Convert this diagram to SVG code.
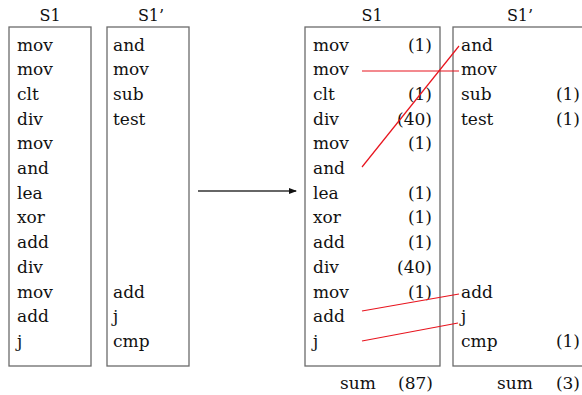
<svg xmlns="http://www.w3.org/2000/svg" width="582" height="395" viewBox="0 0 582 395">
<style>
.box{fill:#fff;stroke:#6b6b6b;stroke-width:1.3}
text{font-family:"DejaVu Serif","Liberation Serif",serif;font-size:17px;fill:#111}
.t{font-size:16px;text-anchor:middle}
.n{text-anchor:end}
.red{stroke:#e8141e;stroke-width:1.2;fill:none}
</style>
<defs>
<marker id="ah" markerWidth="8" markerHeight="6" refX="7" refY="3" orient="auto" markerUnits="userSpaceOnUse">
<path d="M0,0 L8,3 L0,6 z" fill="#111"/>
</marker>
</defs>
<g id="left-s1">
<text class="t" x="50" y="21">S1</text>
<rect class="box" x="9" y="27" width="82" height="339"/>
<text x="17" y="50.5">mov</text>
<text x="17" y="75.2">mov</text>
<text x="17" y="99.9">clt</text>
<text x="17" y="124.6">div</text>
<text x="17" y="149.3">mov</text>
<text x="17" y="174">and</text>
<text x="17" y="198.7">lea</text>
<text x="17" y="223.4">xor</text>
<text x="17" y="248.1">add</text>
<text x="17" y="272.8">div</text>
<text x="17" y="297.5">mov</text>
<text x="17" y="322.2">add</text>
<text x="17" y="346.9">j</text>
</g>
<g id="left-s1p">
<text class="t" x="151" y="21">S1’</text>
<rect class="box" x="107" y="27" width="82" height="339"/>
<text x="113" y="50.5">and</text>
<text x="113" y="75.2">mov</text>
<text x="113" y="99.9">sub</text>
<text x="113" y="124.6">test</text>
<text x="113" y="297.5">add</text>
<text x="113" y="322.2">j</text>
<text x="113" y="346.9">cmp</text>
</g>
<g id="right-s1">
<text class="t" x="372" y="21">S1</text>
<rect class="box" x="305" y="27" width="135" height="339"/>
<text x="313" y="50.5">mov</text><text class="n" x="432" y="50.5">(1)</text>
<text x="313" y="75.2">mov</text>
<text x="313" y="99.9">clt</text><text class="n" x="432" y="99.9">(1)</text>
<text x="313" y="124.6">div</text><text class="n" x="432" y="124.6">(40)</text>
<text x="313" y="149.3">mov</text><text class="n" x="432" y="149.3">(1)</text>
<text x="313" y="174">and</text>
<text x="313" y="198.7">lea</text><text class="n" x="432" y="198.7">(1)</text>
<text x="313" y="223.4">xor</text><text class="n" x="432" y="223.4">(1)</text>
<text x="313" y="248.1">add</text><text class="n" x="432" y="248.1">(1)</text>
<text x="313" y="272.8">div</text><text class="n" x="432" y="272.8">(40)</text>
<text x="313" y="297.5">mov</text><text class="n" x="432" y="297.5">(1)</text>
<text x="313" y="322.2">add</text>
<text x="313" y="346.9">j</text>
<text x="340" y="389">sum</text><text class="n" x="433" y="389">(87)</text>
</g>
<g id="right-s1p">
<text class="t" x="520" y="21">S1’</text>
<rect class="box" x="453" y="27" width="140" height="339"/>
<text x="461" y="50.5">and</text>
<text x="461" y="75.2">mov</text>
<text x="461" y="99.9">sub</text><text class="n" x="580" y="99.9">(1)</text>
<text x="461" y="124.6">test</text><text class="n" x="580" y="124.6">(1)</text>
<text x="461" y="297.5">add</text>
<text x="461" y="322.2">j</text>
<text x="461" y="346.9">cmp</text><text class="n" x="580" y="346.9">(1)</text>
<text x="497" y="389">sum</text><text class="n" x="580" y="389">(3)</text>
</g>
<g id="connectors">
<line x1="198" y1="191" x2="296" y2="191" stroke="#333" stroke-width="1.3" marker-end="url(#ah)"/>
<line class="red" x1="362" y1="167" x2="459" y2="46"/>
<line class="red" x1="362" y1="71" x2="459" y2="71"/>
<line class="red" x1="362" y1="311" x2="459" y2="294"/>
<line class="red" x1="362" y1="341" x2="458" y2="323"/>
</g>
</svg>
